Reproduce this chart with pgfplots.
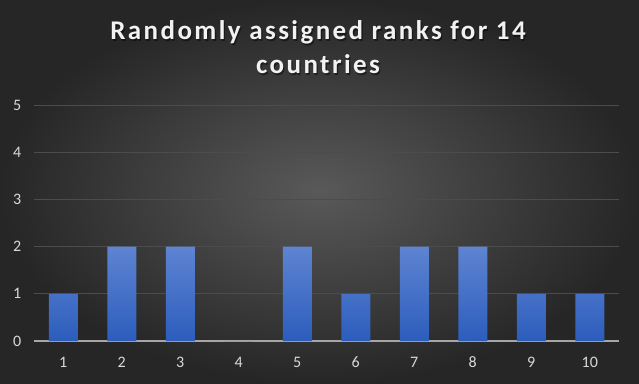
\documentclass[border=0pt]{standalone}
\usepackage{pgfplots}
\pgfplotsset{compat=1.18}
\usepackage{fontspec}
\setmainfont{Carlito}
\definecolor{bgin}{HTML}{595959}
\definecolor{bgout}{HTML}{262626}
\definecolor{gridc}{HTML}{4C4C4C}
\definecolor{axc}{HTML}{A6A6A6}
\definecolor{lbl}{HTML}{D9D9D9}
\definecolor{bartop}{HTML}{5E84D2}
\definecolor{barbot}{HTML}{2C5DBC}
\newcommand{\tfont}{\fontsize{27}{27}\selectfont\bfseries\addfontfeatures{LetterSpace=9}}
\begin{document}
\begin{tikzpicture}[x=1pt,y=1pt]
\shade[inner color=bgin, outer color=bgout] (0,0) rectangle (639,383);
\node[anchor=base, text=black, opacity=0.45, font=\tfont] at (319.3,341.8) {Randomly assigned ranks for 14};
\node[anchor=base, text=black, opacity=0.45, font=\tfont] at (319.3,307.8) {countries};
\node[anchor=base, text=white!95!black, font=\tfont] at (318,343) {Randomly assigned ranks for 14};
\node[anchor=base, text=white!95!black, font=\tfont] at (318,309) {countries};
\begin{axis}[
  at={(34pt,42pt)}, anchor=south west,
  scale only axis, width=585pt, height=236pt,
  xmin=0.5, xmax=10.5, ymin=0, ymax=5,
  xtick={1,...,10}, ytick={0,...,5},
  axis x line=bottom, axis y line=left,
  x axis line style={-, draw=axc, line width=1.6pt},
  y axis line style={draw=none},
  major tick style={draw=none},
  ymajorgrids, grid style={draw=gridc, line width=0.9pt},
  /pgf/number format/assume math mode=true,
  tick label style={font=\fontsize{16}{16}\selectfont, text=lbl},
  xticklabel style={yshift=-8pt},
  yticklabel style={xshift=-7pt},
  ybar, bar width=29pt,
]
\addplot[draw=none, top color=bartop, bottom color=barbot] coordinates {
(1,1) (2,2) (3,2) (4,0) (5,2) (6,1) (7,2) (8,2) (9,1) (10,1)};
\end{axis}
\end{tikzpicture}
\end{document}
